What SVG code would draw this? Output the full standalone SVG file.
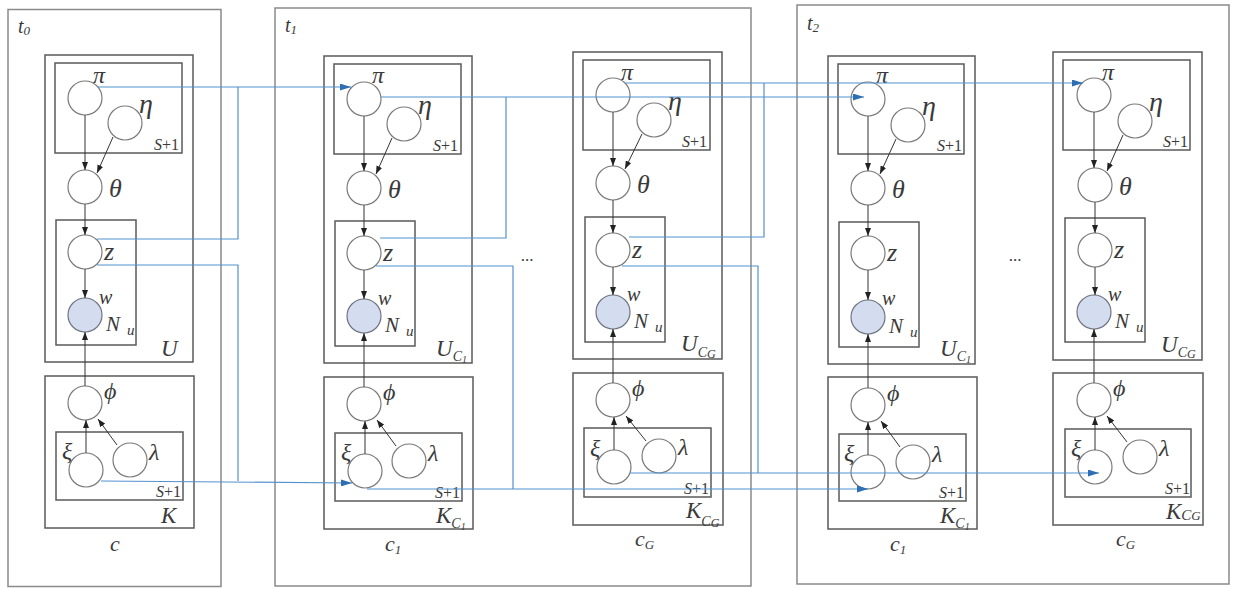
<svg xmlns="http://www.w3.org/2000/svg" width="1233" height="589" viewBox="0 0 1233 589">
<style>
.bg{fill:#fff}
.outer{fill:none;stroke:#8a8a8a;stroke-width:1.5}
.plate{fill:none;stroke:#5a5a5a;stroke-width:1.5}
.node{fill:#fff;stroke:#7a7a7a;stroke-width:1.2}
.obs{fill:#d3ddef;stroke:#6f7480;stroke-width:1.2}
.lbl{font-family:"Liberation Serif","Times New Roman",serif;font-style:italic;fill:#3a3a3a}
.up{font-family:"Liberation Serif","Times New Roman",serif;fill:#3a3a3a}
.blk{fill:none;stroke:#333;stroke-width:1}
.blue{fill:none;stroke:#5391cf;stroke-width:1.2}
.fpi{font-size:24px}
.feta{font-size:28px}
.fth{font-size:26px}
.fz{font-size:26px}
.fw{font-size:20px}
.fN{font-size:21px}
.fu{font-size:15px}
.fphi{font-size:24px}
.fxi{font-size:24px}
.flam{font-size:24px}
.fS{font-size:16px}
.fU{font-size:23px}
.fc{font-size:22px}
</style>
<defs>
<marker id="ah" markerUnits="userSpaceOnUse" markerWidth="8" markerHeight="6" refX="8" refY="3" orient="auto"><path d="M0,0 L8,3 L0,6 z" fill="#222"/></marker>
<marker id="bh" markerUnits="userSpaceOnUse" markerWidth="11" markerHeight="7" refX="11" refY="3.5" orient="auto"><path d="M0,0 L11,3.5 L0,7 z" fill="#2e6fb4"/></marker>
</defs>
<rect class="bg" x="0" y="0" width="1233" height="589"/>

<!-- time slices -->
<g id="t0">
<rect class="outer" x="8" y="9.5" width="213" height="577"/>
<text class="lbl" x="18" y="33" font-size="20">t<tspan font-size="13" dy="2">0</tspan></text>
</g>
<g id="t1">
<rect class="outer" x="275" y="8" width="476" height="578"/>
<text class="lbl" x="285" y="32" font-size="20">t<tspan font-size="13" dy="2">1</tspan></text>
</g>
<g id="t2">
<rect class="outer" x="797" y="5" width="432" height="579"/>
<text class="lbl" x="807" y="30" font-size="20">t<tspan font-size="13" dy="2">2</tspan></text>
</g>
<text class="up" x="527" y="261" font-size="17" text-anchor="middle">...</text>
<text class="up" x="1015" y="261" font-size="17" text-anchor="middle">...</text>

<!-- column t0 -->
<g id="col_t0" transform="translate(85,98)">
<g id="t0_plateU"><rect class="plate" x="-40" y="-43" width="148" height="307"/><text class="lbl fU" x="76" y="258">U</text></g>
<g id="t0_plateS"><rect class="plate" x="-30" y="-35" width="127" height="90"/><text class="lbl fS" x="94" y="52" text-anchor="end">S<tspan class="up" font-style="normal">+1</tspan></text></g>
<g id="t0_plateN"><rect class="plate" x="-29" y="122" width="80" height="125"/><text class="lbl fN" x="21" y="233">N</text><text class="lbl fu" x="42" y="237">u</text></g>
<g id="t0_plateK"><rect class="plate" x="-40" y="278" width="149" height="152"/><text class="lbl fU" x="76" y="425">K</text></g>
<g id="t0_plateS2"><rect class="plate" x="-29" y="334" width="127" height="68"/><text class="lbl fS" x="96" y="399" text-anchor="end">S<tspan class="up" font-style="normal">+1</tspan></text></g>
<g id="t0_pi"><circle class="node" cx="0" cy="0" r="17"/><text class="lbl fpi" x="8" y="-15">π</text></g>
<g id="t0_eta"><circle class="node" cx="40" cy="25" r="17"/><text class="lbl feta" x="54" y="15">η</text></g>
<g id="t0_theta"><circle class="node" cx="0" cy="89" r="17"/><text class="lbl fth" x="24" y="99">θ</text></g>
<g id="t0_z"><circle class="node" cx="0" cy="154" r="17"/><text class="lbl fz" x="19" y="162">z</text></g>
<g id="t0_w"><circle class="obs" cx="0" cy="217" r="17"/><text class="lbl fw" x="14" y="206">w</text></g>
<g id="t0_phi"><circle class="node" cx="0" cy="305" r="17"/><text class="lbl fphi" x="19" y="301">ϕ</text></g>
<g id="t0_xi"><circle class="node" cx="1" cy="372" r="17"/><text class="lbl fxi" x="-23" y="361">ξ</text></g>
<g id="t0_lambda"><circle class="node" cx="45" cy="362" r="17"/><text class="lbl flam" x="64" y="362">λ</text></g>
<text class="lbl fc" x="25" y="453">c</text>
</g>

<!-- column t1 c1 -->
<g id="col_t1c1" transform="translate(364,99)">
<g id="t1c1_plateU"><rect class="plate" x="-40" y="-43" width="148" height="307"/><text class="lbl fU" x="72" y="257">U<tspan font-size="14" dy="5">C</tspan><tspan font-size="10" dy="2">1</tspan></text></g>
<g id="t1c1_plateS"><rect class="plate" x="-30" y="-35" width="127" height="90"/><text class="lbl fS" x="94" y="52" text-anchor="end">S<tspan class="up" font-style="normal">+1</tspan></text></g>
<g id="t1c1_plateN"><rect class="plate" x="-29" y="122" width="80" height="125"/><text class="lbl fN" x="21" y="233">N</text><text class="lbl fu" x="42" y="237">u</text></g>
<g id="t1c1_plateK"><rect class="plate" x="-40" y="278" width="149" height="152"/><text class="lbl fU" x="72" y="424">K<tspan font-size="14" dy="5">C</tspan><tspan font-size="10" dy="2">1</tspan></text></g>
<g id="t1c1_plateS2"><rect class="plate" x="-29" y="334" width="127" height="68"/><text class="lbl fS" x="96" y="399" text-anchor="end">S<tspan class="up" font-style="normal">+1</tspan></text></g>
<g id="t1c1_pi"><circle class="node" cx="0" cy="0" r="17"/><text class="lbl fpi" x="8" y="-16">π</text></g>
<g id="t1c1_eta"><circle class="node" cx="40" cy="25" r="17"/><text class="lbl feta" x="54" y="15">η</text></g>
<g id="t1c1_theta"><circle class="node" cx="0" cy="89" r="17"/><text class="lbl fth" x="24" y="99">θ</text></g>
<g id="t1c1_z"><circle class="node" cx="0" cy="154" r="17"/><text class="lbl fz" x="19" y="162">z</text></g>
<g id="t1c1_w"><circle class="obs" cx="0" cy="217" r="17"/><text class="lbl fw" x="14" y="206">w</text></g>
<g id="t1c1_phi"><circle class="node" cx="0" cy="305" r="17"/><text class="lbl fphi" x="19" y="301">ϕ</text></g>
<g id="t1c1_xi"><circle class="node" cx="1" cy="372" r="17"/><text class="lbl fxi" x="-23" y="361">ξ</text></g>
<g id="t1c1_lambda"><circle class="node" cx="45" cy="362" r="17"/><text class="lbl flam" x="64" y="362">λ</text></g>
<text class="lbl fc" x="21" y="452">c<tspan font-size="13" dy="3">1</tspan></text>
</g>

<!-- column t1 cG -->
<g id="col_t1cG" transform="translate(613,95)">
<g id="t1cG_plateU"><rect class="plate" x="-40" y="-43" width="149" height="307"/><text class="lbl fU" x="68" y="256">U<tspan font-size="14" dy="6">C</tspan><tspan font-size="12" dy="1">G</tspan></text></g>
<g id="t1cG_plateS"><rect class="plate" x="-30" y="-35" width="127" height="90"/><text class="lbl fS" x="94" y="52" text-anchor="end">S<tspan class="up" font-style="normal">+1</tspan></text></g>
<g id="t1cG_plateN"><rect class="plate" x="-28" y="122" width="80" height="125"/><text class="lbl fN" x="21" y="233">N</text><text class="lbl fu" x="42" y="237">u</text></g>
<g id="t1cG_plateK"><rect class="plate" x="-40" y="278" width="150" height="152"/><text class="lbl fU" x="73" y="423">K<tspan font-size="14" dy="8">C</tspan><tspan font-size="12" dy="1">G</tspan></text></g>
<g id="t1cG_plateS2"><rect class="plate" x="-29" y="333" width="127" height="69"/><text class="lbl fS" x="96" y="399" text-anchor="end">S<tspan class="up" font-style="normal">+1</tspan></text></g>
<g id="t1cG_pi"><circle class="node" cx="0" cy="0" r="17"/><text class="lbl fpi" x="8" y="-15">π</text></g>
<g id="t1cG_eta"><circle class="node" cx="41" cy="25" r="17"/><text class="lbl feta" x="55" y="15">η</text></g>
<g id="t1cG_theta"><circle class="node" cx="0" cy="88" r="17"/><text class="lbl fth" x="24" y="98">θ</text></g>
<g id="t1cG_z"><circle class="node" cx="0" cy="155" r="17"/><text class="lbl fz" x="19" y="163">z</text></g>
<g id="t1cG_w"><circle class="obs" cx="0" cy="217" r="17"/><text class="lbl fw" x="14" y="206">w</text></g>
<g id="t1cG_phi"><circle class="node" cx="0" cy="305" r="17"/><text class="lbl fphi" x="19" y="301">ϕ</text></g>
<g id="t1cG_xi"><circle class="node" cx="1" cy="372" r="17"/><text class="lbl fxi" x="-23" y="361">ξ</text></g>
<g id="t1cG_lambda"><circle class="node" cx="46" cy="361" r="17"/><text class="lbl flam" x="65" y="360">λ</text></g>
<text class="lbl fc" x="22" y="451">c<tspan font-size="13" dy="3">G</tspan></text>
</g>

<!-- column t2 c1 -->
<g id="col_t2c1" transform="translate(868,99)">
<g id="t2c1_plateU"><rect class="plate" x="-40" y="-43" width="147" height="308"/><text class="lbl fU" x="72" y="257">U<tspan font-size="14" dy="5">C</tspan><tspan font-size="10" dy="2">1</tspan></text></g>
<g id="t2c1_plateS"><rect class="plate" x="-30" y="-35" width="126" height="90"/><text class="lbl fS" x="94" y="52" text-anchor="end">S<tspan class="up" font-style="normal">+1</tspan></text></g>
<g id="t2c1_plateN"><rect class="plate" x="-29" y="123" width="80" height="125"/><text class="lbl fN" x="21" y="234">N</text><text class="lbl fu" x="42" y="238">u</text></g>
<g id="t2c1_plateK"><rect class="plate" x="-40" y="278" width="149" height="152"/><text class="lbl fU" x="72" y="424">K<tspan font-size="14" dy="5">C</tspan><tspan font-size="10" dy="2">1</tspan></text></g>
<g id="t2c1_plateS2"><rect class="plate" x="-29" y="335" width="127" height="67"/><text class="lbl fS" x="96" y="399" text-anchor="end">S<tspan class="up" font-style="normal">+1</tspan></text></g>
<g id="t2c1_pi"><circle class="node" cx="0" cy="0" r="17"/><text class="lbl fpi" x="8" y="-16">π</text></g>
<g id="t2c1_eta"><circle class="node" cx="40" cy="26" r="17"/><text class="lbl feta" x="54" y="16">η</text></g>
<g id="t2c1_theta"><circle class="node" cx="0" cy="89" r="17"/><text class="lbl fth" x="24" y="99">θ</text></g>
<g id="t2c1_z"><circle class="node" cx="0" cy="154" r="17"/><text class="lbl fz" x="19" y="162">z</text></g>
<g id="t2c1_w"><circle class="obs" cx="0" cy="218" r="17"/><text class="lbl fw" x="14" y="206">w</text></g>
<g id="t2c1_phi"><circle class="node" cx="0" cy="306" r="17"/><text class="lbl fphi" x="19" y="302">ϕ</text></g>
<g id="t2c1_xi"><circle class="node" cx="0" cy="373" r="17"/><text class="lbl fxi" x="-24" y="362">ξ</text></g>
<g id="t2c1_lambda"><circle class="node" cx="45" cy="363" r="17"/><text class="lbl flam" x="64" y="363">λ</text></g>
<text class="lbl fc" x="22" y="452">c<tspan font-size="13" dy="3">1</tspan></text>
</g>

<!-- column t2 cG -->
<g id="col_t2cG" transform="translate(1094,95)">
<g id="t2cG_plateU"><rect class="plate" x="-41" y="-43" width="149" height="308"/><text class="lbl fU" x="67" y="257">U<tspan font-size="14" dy="5">C</tspan><tspan font-size="12" dy="1">G</tspan></text></g>
<g id="t2cG_plateS"><rect class="plate" x="-31" y="-35" width="127" height="90"/><text class="lbl fS" x="94" y="52" text-anchor="end">S<tspan class="up" font-style="normal">+1</tspan></text></g>
<g id="t2cG_plateN"><rect class="plate" x="-29" y="123" width="80" height="124"/><text class="lbl fN" x="21" y="233">N</text><text class="lbl fu" x="42" y="237">u</text></g>
<g id="t2cG_plateK"><rect class="plate" x="-41" y="278" width="150" height="152"/><text class="lbl fU" x="72" y="424">K<tspan font-size="15" dy="1">C</tspan><tspan font-size="13" dy="0">G</tspan></text></g>
<g id="t2cG_plateS2"><rect class="plate" x="-29" y="334" width="126" height="68"/><text class="lbl fS" x="96" y="399" text-anchor="end">S<tspan class="up" font-style="normal">+1</tspan></text></g>
<g id="t2cG_pi"><circle class="node" cx="0" cy="0" r="17"/><text class="lbl fpi" x="8" y="-15">π</text></g>
<g id="t2cG_eta"><circle class="node" cx="41" cy="26" r="17"/><text class="lbl feta" x="55" y="16">η</text></g>
<g id="t2cG_theta"><circle class="node" cx="1" cy="90" r="17"/><text class="lbl fth" x="25" y="100">θ</text></g>
<g id="t2cG_z"><circle class="node" cx="1" cy="155" r="17"/><text class="lbl fz" x="20" y="163">z</text></g>
<g id="t2cG_w"><circle class="obs" cx="0" cy="217" r="17"/><text class="lbl fw" x="14" y="206">w</text></g>
<g id="t2cG_phi"><circle class="node" cx="0" cy="305" r="17"/><text class="lbl fphi" x="19" y="301">ϕ</text></g>
<g id="t2cG_xi"><circle class="node" cx="1" cy="372" r="17"/><text class="lbl fxi" x="-23" y="361">ξ</text></g>
<g id="t2cG_lambda"><circle class="node" cx="46" cy="362" r="17"/><text class="lbl flam" x="65" y="361">λ</text></g>
<text class="lbl fc" x="22" y="451">c<tspan font-size="13" dy="3">G</tspan></text>
</g>

<!-- connectors -->
<g id="connectors">
<g id="intra_t0" transform="translate(85,98)">
<path class="blk" d="M0 17 V72" marker-end="url(#ah)"/>
<path class="blk" d="M28 39 L12 75" marker-end="url(#ah)"/>
<path class="blk" d="M0 106 V137" marker-end="url(#ah)"/>
<path class="blk" d="M0 171 V200" marker-end="url(#ah)"/>
<path class="blk" d="M0 288 V234" marker-end="url(#ah)"/>
<path class="blk" d="M1 355 V322" marker-end="url(#ah)"/>
<path class="blk" d="M32 347 L13 321" marker-end="url(#ah)"/>
</g>
<g id="intra_t1c1" transform="translate(364,99)">
<path class="blk" d="M0 17 V72" marker-end="url(#ah)"/>
<path class="blk" d="M28 39 L12 75" marker-end="url(#ah)"/>
<path class="blk" d="M0 106 V137" marker-end="url(#ah)"/>
<path class="blk" d="M0 171 V200" marker-end="url(#ah)"/>
<path class="blk" d="M0 288 V234" marker-end="url(#ah)"/>
<path class="blk" d="M1 355 V322" marker-end="url(#ah)"/>
<path class="blk" d="M32 347 L13 321" marker-end="url(#ah)"/>
</g>
<g id="intra_t1cG" transform="translate(613,95)">
<path class="blk" d="M0 17 V71" marker-end="url(#ah)"/>
<path class="blk" d="M29 39 L12 74" marker-end="url(#ah)"/>
<path class="blk" d="M0 105 V138" marker-end="url(#ah)"/>
<path class="blk" d="M0 172 V200" marker-end="url(#ah)"/>
<path class="blk" d="M0 288 V234" marker-end="url(#ah)"/>
<path class="blk" d="M1 355 V322" marker-end="url(#ah)"/>
<path class="blk" d="M33 346 L13 321" marker-end="url(#ah)"/>
</g>
<g id="intra_t2c1" transform="translate(868,99)">
<path class="blk" d="M0 17 V72" marker-end="url(#ah)"/>
<path class="blk" d="M28 40 L12 75" marker-end="url(#ah)"/>
<path class="blk" d="M0 106 V137" marker-end="url(#ah)"/>
<path class="blk" d="M0 171 V201" marker-end="url(#ah)"/>
<path class="blk" d="M0 289 V235" marker-end="url(#ah)"/>
<path class="blk" d="M0 356 V323" marker-end="url(#ah)"/>
<path class="blk" d="M32 348 L13 322" marker-end="url(#ah)"/>
</g>
<g id="intra_t2cG" transform="translate(1094,95)">
<path class="blk" d="M0 17 V73" marker-end="url(#ah)"/>
<path class="blk" d="M29 40 L13 76" marker-end="url(#ah)"/>
<path class="blk" d="M1 107 V138" marker-end="url(#ah)"/>
<path class="blk" d="M1 172 V200" marker-end="url(#ah)"/>
<path class="blk" d="M0 288 V234" marker-end="url(#ah)"/>
<path class="blk" d="M1 355 V322" marker-end="url(#ah)"/>
<path class="blk" d="M33 347 L13 321" marker-end="url(#ah)"/>
</g>
<g id="temporal">
<path class="blue" d="M98 87 H351" marker-end="url(#bh)"/>
<path class="blue" d="M97 239 H238 V87"/>
<path class="blue" d="M97 265 H238 V481"/>
<path class="blue" d="M101 481 L352 483" marker-end="url(#bh)"/>
<path class="blue" d="M381 97 H864" marker-end="url(#bh)"/>
<path class="blue" d="M380 238 H506 V97"/>
<path class="blue" d="M376 266 H513 V489"/>
<path class="blue" d="M367 489 H868" marker-end="url(#bh)"/>
<path class="blue" d="M626 83 H1083" marker-end="url(#bh)"/>
<path class="blue" d="M629 237 H764 V83"/>
<path class="blue" d="M622 266 H758 V473"/>
<path class="blue" d="M630 473 H1099" marker-end="url(#bh)"/>
</g>
</g>
</svg>
